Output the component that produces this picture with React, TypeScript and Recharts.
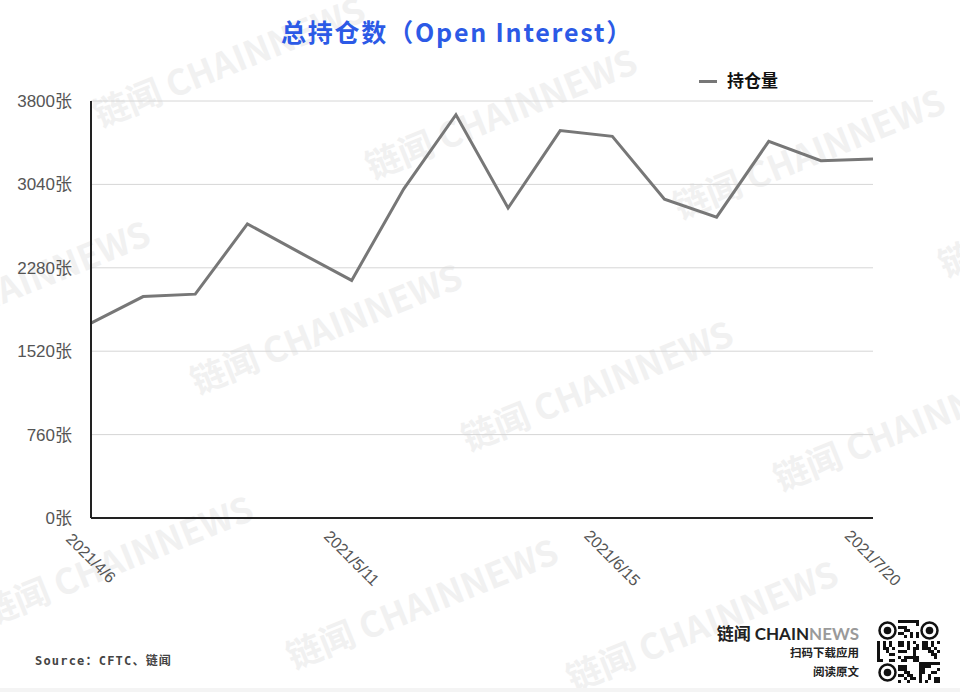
import React from "react";
import { LineChart, Line, XAxis, YAxis, CartesianGrid } from "recharts";

const dates = [
  "2021/4/6", "2021/4/13", "2021/4/20", "2021/4/27", "2021/5/4", "2021/5/11",
  "2021/5/18", "2021/5/25", "2021/6/1", "2021/6/8", "2021/6/15", "2021/6/22",
  "2021/6/29", "2021/7/6", "2021/7/13", "2021/7/20",
];
const openInterest = [
  1776, 2018, 2040, 2680, 2420, 2165, 3000, 3675,
  2825, 3530, 3478, 2905, 2742, 3432, 3256, 3271,
];
const yTicks = [0, 760, 1520, 2280, 3040, 3800];

const data = dates.map((date, i) => ({ date, oi: openInterest[i] }));

const FONT = "'Liberation Sans', Arial, 'Noto Sans CJK SC', sans-serif";
const CJK = "'Noto Sans CJK SC', 'Noto Sans', sans-serif";

// watermark anchor points (baseline start)
const marks = [
  [100, 128], [372, 180], [680, 220], [945, 278],
  [-115, 352], [197, 395], [468, 452], [780, 492],
  [-12, 627], [293, 670], [573, 692],
];

function XTick(props: any) {
  const { x, y, payload } = props;
  return (
    <g transform={`translate(${x},${y + 40}) rotate(45)`}>
      <text textAnchor="middle" dy="0.35em" fill="#555" fontSize={16} fontFamily={FONT}>
        {payload.value}
      </text>
    </g>
  );
}

function QrCode({ x, y }: { x: number; y: number }) {
  const n = 21;
  const m = 3;
  const cells: React.ReactNode[] = [];
  const inFinder = (i: number, j: number) =>
    (i < 7 && j < 7) || (i < 7 && j >= n - 7) || (i >= n - 7 && j < 7);
  for (let i = 0; i < n; i++) {
    for (let j = 0; j < n; j++) {
      if (inFinder(i, j)) continue;
      const h = (i * 37 + j * 23 + i * j * 11 + ((i ^ j) * 5)) % 7;
      if (h < 3) {
        cells.push(<rect key={`${i}-${j}`} x={x + j * m} y={y + i * m} width={m} height={m} fill="#111" />);
      }
    }
  }
  const finder = (cx: number, cy: number, k: string) => (
    <g key={k}>
      <circle cx={cx} cy={cy} r={8} fill="none" stroke="#111" strokeWidth={2.5} />
      <circle cx={cx} cy={cy} r={3.8} fill="#111" />
    </g>
  );
  return (
    <g>
      {cells}
      {finder(x + 10.5, y + 10.5, "a")}
      {finder(x + n * m - 10.5, y + 10.5, "b")}
      {finder(x + 10.5, y + n * m - 10.5, "c")}
    </g>
  );
}

export default function App() {
  return (
    <div style={{ position: "absolute", left: 0, top: 0, width: 960, height: 692, background: "#fff", overflow: "hidden" }}>
      <svg width={960} height={692} style={{ position: "absolute", left: 0, top: 0 }}>
        {marks.map(([mx, my], i) => (
          <text
            key={i}
            x={mx}
            y={my}
            transform={`rotate(-22 ${mx} ${my})`}
            fill="#f1f1f1"
            fontSize={35}
            fontWeight={700}
            fontFamily={CJK}
          >
            链闻 CHAINNEWS
          </text>
        ))}
        <rect x={0} y={688} width={960} height={4} fill="#f4f4f4" />
      </svg>
      <div style={{ position: "absolute", left: 0, top: 0 }}>
        <LineChart width={960} height={692} data={data} margin={{ top: 101, right: 87, left: 0, bottom: 114 }}>
          <CartesianGrid vertical={false} stroke="#d6d6d6" strokeWidth={1} />
          <XAxis
            dataKey="date"
            interval={4}
            height={60}
            tickSize={0}
            tickMargin={0}
            tickLine={false}
            axisLine={{ stroke: "#222", strokeWidth: 2 }}
            tick={<XTick />}
          />
          <YAxis
            width={91}
            domain={[0, 3800]}
            ticks={yTicks}
            interval={0}
            tickSize={0}
            tickMargin={19}
            tickLine={false}
            axisLine={{ stroke: "#222", strokeWidth: 2 }}
            tickFormatter={(v: number) => `${v}张`}
            tick={{ fill: "#555", fontSize: 17, fontFamily: FONT }}
          />
          <Line
            type="linear"
            dataKey="oi"
            name="持仓量"
            stroke="#777"
            strokeWidth={3}
            dot={false}
            isAnimationActive={false}
          />
        </LineChart>
      </div>
      <svg width={960} height={692} style={{ position: "absolute", left: 0, top: 0, pointerEvents: "none" }}>
        <text x={457} y={42} textAnchor="middle" fill="#2c5ae6" fontSize={25} fontWeight={700} fontFamily={CJK} letterSpacing={1.8}>
          总持仓数（Open Interest）
        </text>
        <rect x={699} y={80} width={18} height={3} fill="#777" />
        <text x={727} y={87} fill="#111" fontSize={17} fontWeight={700} fontFamily={CJK}>
          持仓量
        </text>
        <text x={35} y={665} fill="#444" fontSize={12} fontWeight={700} fontFamily="'DejaVu Sans Mono', 'Noto Sans CJK SC', monospace" letterSpacing={1.2}>
          Source：CFTC、链闻
        </text>
        <text x={859} y={640} textAnchor="end" fontSize={17} fontWeight={700} fontFamily={`Lato, ${CJK}`}>
          <tspan fill="#222">链闻 CHAIN</tspan>
          <tspan fill="#9a9a9a">NEWS</tspan>
        </text>
        <text x={859} y={657} textAnchor="end" fill="#222" fontSize={11.5} fontWeight={700} fontFamily={CJK}>
          扫码下载应用
        </text>
        <text x={859} y={676} textAnchor="end" fill="#222" fontSize={11.5} fontWeight={700} fontFamily={CJK}>
          阅读原文
        </text>
        <QrCode x={877} y={620} />
      </svg>
    </div>
  );
}
